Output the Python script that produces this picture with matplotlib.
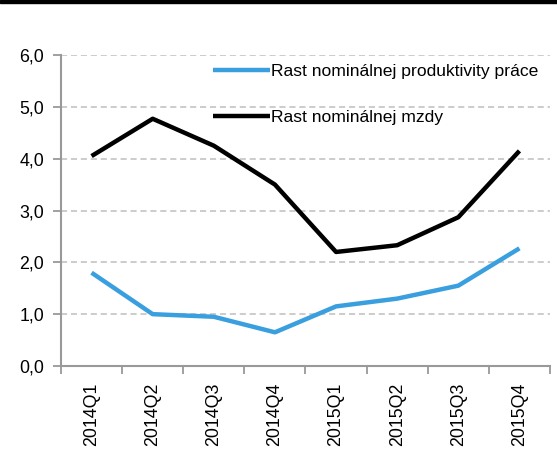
import matplotlib
matplotlib.use("Agg")
import matplotlib.pyplot as plt
from matplotlib.patches import Rectangle

plt.rcParams['font.family'] = ['Liberation Sans', 'DejaVu Sans']

quarters = ["2014Q1", "2014Q2", "2014Q3", "2014Q4", "2015Q1", "2015Q2", "2015Q3", "2015Q4"]
productivity = [1.80, 1.00, 0.95, 0.65, 1.15, 1.30, 1.55, 2.27]
wages = [4.05, 4.77, 4.25, 3.50, 2.20, 2.33, 2.87, 4.15]
y_ticks = [0, 1, 2, 3, 4, 5, 6]
y_labels = ["0,0", "1,0", "2,0", "3,0", "4,0", "5,0", "6,0"]

fig = plt.figure(figsize=(5.57, 4.57), dpi=100)
fig.patches.append(Rectangle((0, 1 - 3 / 457), 1, 3 / 457, transform=fig.transFigure,
                             color="black", zorder=10))
ax = fig.add_axes([61 / 557, 1 - 366 / 457, (550 - 61) / 557, (366 - 55) / 457])

x = list(range(len(quarters)))
ax.plot(x, productivity, color="#3a9fdf", lw=3.2, solid_capstyle="butt",
        label="Rast nominálnej produktivity práce")
ax.plot(x, wages, color="black", lw=3.2, solid_capstyle="butt",
        label="Rast nominálnej mzdy")

ax.set_xlim(-0.5, len(quarters) - 0.5)
ax.set_ylim(0, 6)
ax.set_yticks(y_ticks)
ax.set_yticklabels(y_labels, fontsize=12.8)
ax.set_xticks(x)
ax.set_xticklabels(quarters, rotation=90, fontsize=12.8)
ax.set_xticks([i - 0.5 for i in range(len(quarters) + 1)], minor=True)
ax.tick_params(axis="x", which="major", length=0, pad=12)
ax.tick_params(axis="x", which="minor", length=6, color="#999999", width=1.3)
ax.tick_params(axis="y", length=6, color="#999999", width=1.3, pad=6)

for v in y_ticks[1:]:
    ax.axhline(v, color="#bfbfbf", lw=1.1, ls=(0, (4, 2.5)), zorder=0)

for side in ("top", "right"):
    ax.spines[side].set_visible(False)
for side in ("left", "bottom"):
    ax.spines[side].set_color("#999999")
    ax.spines[side].set_linewidth(1.5)

ax.legend(loc="upper left", bbox_to_anchor=(0.296, 0.995), frameon=False, fontsize=12.6,
          handlelength=3.3, handletextpad=0.05, labelspacing=1.75, borderaxespad=0)

fig.savefig("out.png", dpi=100, facecolor="white")
